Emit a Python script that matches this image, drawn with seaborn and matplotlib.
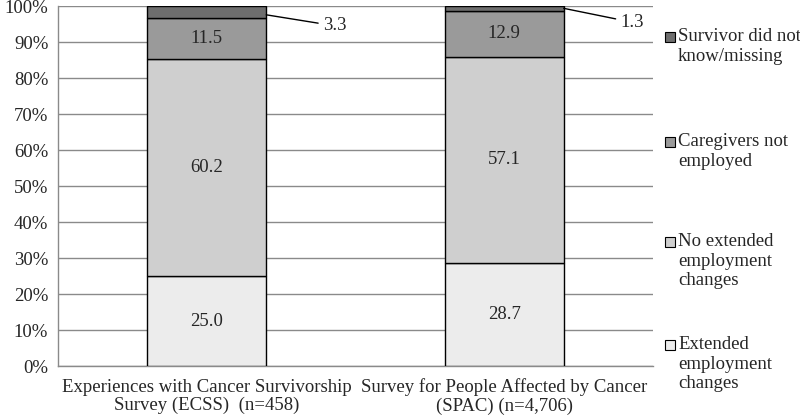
import matplotlib
matplotlib.use("Agg")
import matplotlib.pyplot as plt
import matplotlib.patches as mpatches
import matplotlib.ticker as mticker
import numpy as np
import seaborn as sns

# data
surveys = ["Experiences with Cancer Survivorship\nSurvey (ECSS)  (n=458)",
           "Survey for People Affected by Cancer\n(SPAC) (n=4,706)"]
groups = ["Extended\nemployment\nchanges",
          "No extended\nemployment\nchanges",
          "Caregivers not\nemployed",
          "Survivor did not\nknow/missing"]
extended = [25.0, 28.7]
no_extended = [60.2, 57.1]
caregivers = [11.5, 12.9]
missing = [3.3, 1.3]

colors = ["#ececec", "#cfcfcf", "#9a9a9a", "#6e6e6e"]
fs = 13.5

sns.set_style("white")
plt.rcParams["font.family"] = ["Liberation Serif", "DejaVu Serif"]
plt.rcParams["font.size"] = fs

fig = plt.figure(figsize=(8, 4.19), dpi=100)
ax = fig.add_axes([58 / 800, 1 - 366 / 419, 595 / 800, 360 / 419])

layers = [extended, no_extended, caregivers, missing]
bottom = np.zeros(len(surveys))
for vals, col in zip(layers, colors):
    sns.barplot(x=surveys, y=vals, bottom=bottom, color=col, width=0.4,
                edgecolor="black", linewidth=1, saturation=1, ax=ax, zorder=3)
    bottom = bottom + np.array(vals)

# segment labels inside the bars
bottom = np.zeros(len(surveys))
for li, vals in enumerate(layers):
    for i, v in enumerate(vals):
        mid = bottom[i] + v / 2
        if li < 3:
            ax.text(i, mid, f"{v:.1f}", ha="center", va="center", fontsize=fs, zorder=4)
    bottom = bottom + np.array(vals)

# small top segments labelled outside with leader lines
ax.annotate(f"{missing[0]:.1f}", xy=(0.2, 100 - missing[0] / 2 - 0.8), xytext=(0.39, 94.5),
            ha="left", va="center", fontsize=fs,
            arrowprops=dict(arrowstyle="-", color="black", lw=1, shrinkA=1, shrinkB=0))
ax.annotate(f"{missing[1]:.1f}", xy=(1.2, 100 - missing[1] / 2), xytext=(1.39, 95.5),
            ha="left", va="center", fontsize=fs,
            arrowprops=dict(arrowstyle="-", color="black", lw=1, shrinkA=1, shrinkB=0))

ax.set_xlim(-0.5, 1.5)
ax.set_ylim(0, 100)
ax.set_yticks(np.arange(0, 101, 10))
ax.yaxis.set_major_formatter(mticker.FuncFormatter(lambda v, p: f"{int(v)}%"))
ax.yaxis.grid(True, color="#8a8a8a", linewidth=1, zorder=0)
ax.set_axisbelow(True)
ax.set_xticks([0, 1])
ax.set_xticklabels(surveys, fontsize=fs, linespacing=1.1)
ax.set_xticks([-0.5, 0.5, 1.5], minor=True)
ax.tick_params(axis="x", which="major", length=0, pad=9)
ax.tick_params(axis="x", which="minor", length=5, color="#8a8a8a", direction="out")
ax.tick_params(axis="y", length=5, color="#8a8a8a", direction="out", labelsize=fs, pad=2)
ax.set_xlabel("")
ax.set_ylabel("")
for s in ["top", "right"]:
    ax.spines[s].set_visible(False)
for s in ["left", "bottom"]:
    ax.spines[s].set_color("#8a8a8a")
    ax.spines[s].set_linewidth(1)

# legend, reversed order, one entry per slot
leg_y = [345, 242, 142, 37]
for lab, col, py in zip(groups, colors, leg_y):
    yc = 1 - py / 419
    fig.add_artist(mpatches.Rectangle((665 / 800, yc - 5 / 419), 10 / 800, 10 / 419,
                                      transform=fig.transFigure, facecolor=col,
                                      edgecolor="black", linewidth=0.8))
    fig.text(678 / 800, yc + 9 / 419, lab, ha="left", va="top", fontsize=fs,
             linespacing=1.2)

fig.savefig("out.png", dpi=100)
